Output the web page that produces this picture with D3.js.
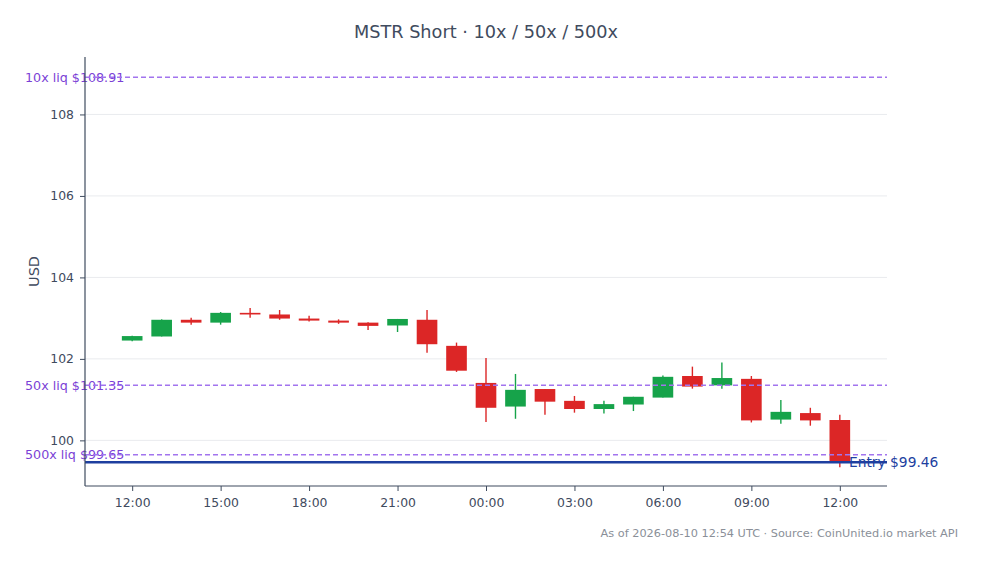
<!DOCTYPE html>
<html>
<head>
<meta charset="utf-8">
<script src="https://cdn.jsdelivr.net/npm/d3@7/dist/d3.min.js"></script>
<style>
  html, body { margin: 0; padding: 0; background: #fff; }
  svg { display: block; font-family: "DejaVu Sans", sans-serif; }
</style>
</head>
<body>
<svg id="chart" width="983" height="564"></svg>
<script>
// ---- data ----
const times = ["2026-08-09T12:00Z","2026-08-09T13:00Z","2026-08-09T14:00Z","2026-08-09T15:00Z","2026-08-09T16:00Z",
  "2026-08-09T17:00Z","2026-08-09T18:00Z","2026-08-09T19:00Z","2026-08-09T20:00Z","2026-08-09T21:00Z",
  "2026-08-09T22:00Z","2026-08-09T23:00Z","2026-08-10T00:00Z","2026-08-10T01:00Z","2026-08-10T02:00Z",
  "2026-08-10T03:00Z","2026-08-10T04:00Z","2026-08-10T05:00Z","2026-08-10T06:00Z","2026-08-10T07:00Z",
  "2026-08-10T08:00Z","2026-08-10T09:00Z","2026-08-10T10:00Z","2026-08-10T11:00Z","2026-08-10T12:00Z"];
const opens  = [102.45,102.55,102.96,102.89,103.13,103.09,102.99,102.94,102.89,102.82,102.96,102.32,101.41,100.83,101.26,100.97,100.77,100.88,101.05,101.58,101.35,101.51,100.51,100.67,100.50];
const highs  = [102.57,102.97,103.01,103.15,103.25,103.20,103.06,102.97,102.90,102.98,103.20,102.40,102.02,101.63,101.26,101.09,100.97,101.07,101.59,101.81,101.91,101.58,100.99,100.80,100.63];
const lows   = [102.43,102.55,102.84,102.84,103.01,102.96,102.92,102.86,102.71,102.66,102.15,101.68,100.45,100.53,100.63,100.68,100.66,100.72,101.05,101.27,101.27,100.44,100.41,100.36, 99.34];
const closes = [102.56,102.96,102.89,103.13,103.09,102.99,102.94,102.89,102.81,102.98,102.36,101.71,100.80,101.24,100.95,100.77,100.89,101.07,101.56,101.32,101.53,100.49,100.70,100.49, 99.48];

const liqLabels = ["10x liq $108.91","50x liq $101.35","500x liq $99.65"];
const liqValues = [108.91, 101.35, 99.65];
const entryLabel = "Entry $99.46";
const entryValue = 99.46;
const yTicks = [100,102,104,106,108];
const yDomain = [98.88, 109.41];
const titleText = "MSTR Short · 10x / 50x / 500x";
const footerText = "As of 2026-08-10 12:54 UTC · Source: CoinUnited.io market API";
const yTitle = "USD";

// ---- layout ----
const svg = d3.select("#chart");
const L = 85, R = 887, T = 57, B = 486;
const axisColor = "#3f4b5e", textColor = "#3f4b5e";
const up = "#16a34a", down = "#dc2626";
const liqLine = "#a274ee", liqText = "#7b3fd6";
const entryColor = "#1e3f9f";

const dates = times.map(t => new Date(t));
const pad = 1.6 * 3600 * 1000;
const x = d3.scaleTime()
  .domain([new Date(+dates[0] - pad), new Date(+dates[dates.length - 1] + pad)])
  .range([L, R]);
const y = d3.scaleLinear().domain(yDomain).range([B, T]);
const step = x(dates[1]) - x(dates[0]);
const bw = step * 0.7;

// grid
svg.append("g").selectAll("line").data(yTicks).join("line")
  .attr("x1", L).attr("x2", R)
  .attr("y1", d => y(d)).attr("y2", d => y(d))
  .attr("stroke", "#e9ebee").attr("stroke-width", 1);

// title
svg.append("text").attr("x", (L + R) / 2).attr("y", 38)
  .attr("text-anchor", "middle").attr("font-size", 17.7)
  .attr("fill", textColor).text(titleText);

// liq labels (under lines)
svg.append("g").selectAll("text").data(liqValues).join("text")
  .attr("x", 25).attr("y", d => y(d)).attr("dy", "0.35em")
  .attr("font-size", 12.7).attr("fill", liqText)
  .text((d, i) => liqLabels[i]);

// entry label
svg.append("text").attr("x", 849).attr("y", y(entryValue)).attr("dy", "0.35em")
  .attr("font-size", 13.8).attr("fill", entryColor).text(entryLabel);

// candles
const idx = d3.range(dates.length);
const cg = svg.append("g");
cg.selectAll("line").data(idx).join("line")
  .attr("x1", i => x(dates[i])).attr("x2", i => x(dates[i]))
  .attr("y1", i => y(highs[i])).attr("y2", i => y(lows[i]))
  .attr("stroke", i => closes[i] >= opens[i] ? up : down)
  .attr("stroke-width", 1.4);
cg.selectAll("rect").data(idx).join("rect")
  .attr("x", i => x(dates[i]) - bw / 2).attr("width", bw)
  .attr("y", i => y(Math.max(opens[i], closes[i])))
  .attr("height", i => Math.max(1, Math.abs(y(opens[i]) - y(closes[i]))))
  .attr("fill", i => closes[i] >= opens[i] ? up : down);

// liq lines
svg.append("g").selectAll("line").data(liqValues).join("line")
  .attr("x1", L).attr("x2", R)
  .attr("y1", d => y(d)).attr("y2", d => y(d))
  .attr("stroke", liqLine).attr("stroke-width", 1.5)
  .attr("stroke-dasharray", "5,3");

// entry line
svg.append("line").attr("x1", L).attr("x2", R)
  .attr("y1", y(entryValue)).attr("y2", y(entryValue))
  .attr("stroke", entryColor).attr("stroke-width", 2.5);

// axes
const yAxis = svg.append("g").attr("transform", `translate(${L},0)`)
  .call(d3.axisLeft(y).tickValues(yTicks).tickSize(5).tickPadding(6).tickFormat(d3.format("d")));
const xAxis = svg.append("g").attr("transform", `translate(0,${B})`)
  .call(d3.axisBottom(x).ticks(d3.utcHour.every(3)).tickSize(5).tickPadding(7).tickFormat(d3.utcFormat("%H:%M")));
[yAxis, xAxis].forEach(a => {
  a.attr("font-family", "DejaVu Sans, sans-serif").attr("font-size", 12.4);
  a.select(".domain").attr("stroke", axisColor).attr("stroke-width", 1.2);
  a.selectAll(".tick line").attr("stroke", axisColor);
  a.selectAll(".tick text").attr("fill", textColor);
});
yAxis.select(".domain").attr("d", `M0,${T}V${B}`);
xAxis.select(".domain").attr("d", `M${L},0H${R}`);

// y title
svg.append("text").attr("transform", `translate(39,${(T + B) / 2}) rotate(-90)`)
  .attr("text-anchor", "middle").attr("font-size", 14.5)
  .attr("fill", textColor).text(yTitle);

// footer
svg.append("text").attr("x", 958).attr("y", 537).attr("text-anchor", "end")
  .attr("font-size", 11.3).attr("fill", "#8a8f98").text(footerText);
</script>
</body>
</html>
